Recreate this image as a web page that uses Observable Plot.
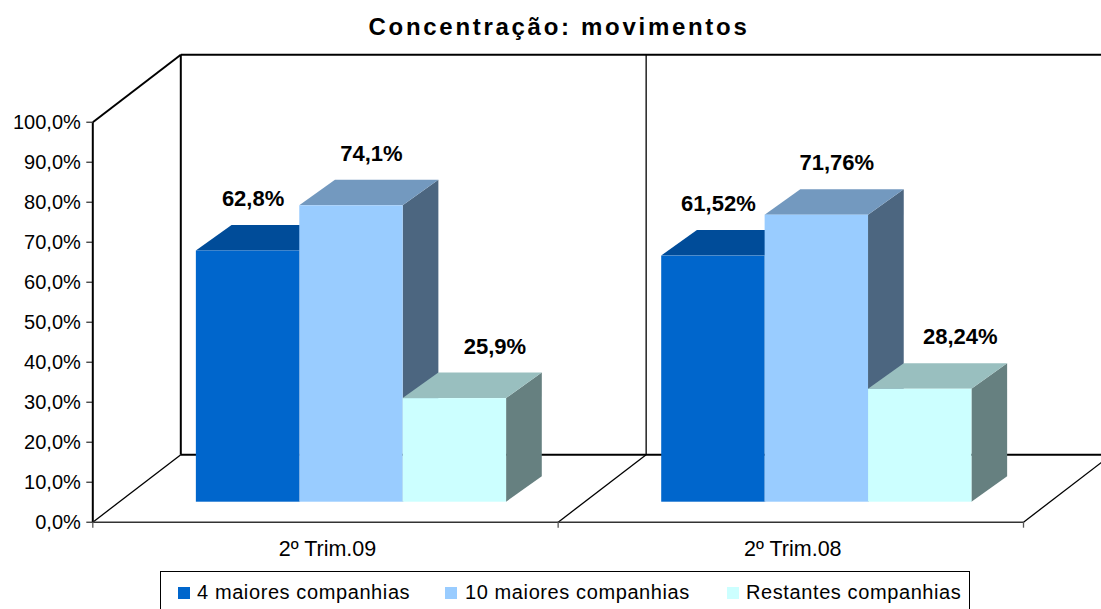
<!DOCTYPE html>
<html><head><meta charset="utf-8">
<script src="https://cdn.jsdelivr.net/npm/d3@7"></script>
<script src="https://cdn.jsdelivr.net/npm/@observablehq/plot@0.6"></script>
<style>
html,body{margin:0;padding:0;background:#fff;overflow:hidden;}
#wrap{position:relative;width:1101px;height:609px;font-family:Arial,"Liberation Sans",sans-serif;color:#000;}
#title{position:absolute;left:0;top:15px;width:1118px;text-align:center;font-weight:bold;font-size:24px;line-height:24px;letter-spacing:2.7px;}
#chart{position:absolute;left:0;top:50px;}
#legend{position:absolute;left:160px;top:571px;width:810px;height:44px;border:1px solid #000;box-sizing:border-box;}
.sw{position:absolute;width:12px;height:12px;top:15px;}
.lt{position:absolute;top:10px;font-size:20px;line-height:20px;letter-spacing:0.6px;white-space:nowrap;}
</style>
</head><body>
<div id="wrap">
  <div id="title">Concentração: movimentos</div>
  <div id="chart"></div>
  <div id="legend"></div>
</div>
<script>
// ---- data ----
const categories = ["2º Trim.09", "2º Trim.08"];
const series = ["4 maiores companhias", "10 maiores companhias", "Restantes companhias"];
const trim09 = [62.8, 74.1, 25.9];
const trim08 = [61.52, 71.76, 28.24];
const yTicks = [0, 10, 20, 30, 40, 50, 60, 70, 80, 90, 100];

// ---- styles ----
const frontColors = ["#0066CC", "#99CCFF", "#CCFFFF"];
const topColors = ["#004C99", "#7399BF", "#99BFBF"];
const sideColors = ["#003366", "#4C6680", "#668080"];

// ---- layout ----
const W = 1101, H = 510;
const mL = 92.3, mR = 78, mT = 71.7, mB = 38.3;
const ux = 2 / (W - mL - mR);     // x data units per pixel
const uy = 100 / (H - mT - mB);   // y data units per pixel
const wallDX = 88 * ux, wallDY = 67.5 * uy;
const barOffX = 26 * ux, barOffY = 20 * uy;
const depthX = 35.7 * ux, depthY = 25.5 * uy;
const barW = 1 / 4.5, gap = 0.75 * barW;
const labelShift = [5, 20, 40];

const values = [trim09, trim08];
const bars = [];
values.forEach((vals, c) => vals.forEach((v, i) => {
  const x0 = c + gap + i * barW + barOffX;
  bars.push({c, i, v, id: c + "-" + i, x0, x1: x0 + barW, y0: barOffY, y1: v + barOffY});
}));

const sides = bars.flatMap(b => [
  {id: b.id, x: b.x1, y1: b.y0, y2: b.y1, fill: sideColors[b.i]},
  {id: b.id, x: b.x1 + depthX, y1: b.y0 + depthY, y2: b.y1 + depthY, fill: sideColors[b.i]}
]);
const tops = bars.flatMap(b => [
  {id: b.id, x: b.x0, y1: b.y1, y2: b.y1, fill: topColors[b.i]},
  {id: b.id, x: b.x0 + depthX, y1: b.y1, y2: b.y1 + depthY, fill: topColors[b.i]},
  {id: b.id, x: b.x1, y1: b.y1, y2: b.y1 + depthY, fill: topColors[b.i]},
  {id: b.id, x: b.x1 + depthX, y1: b.y1 + depthY, y2: b.y1 + depthY, fill: topColors[b.i]}
]);

const n = categories.length;
const heavy = [
  {x1: 0, y1: 0, x2: 0, y2: 100},
  {x1: 0, y1: 100, x2: wallDX, y2: 100 + wallDY},
  {x1: wallDX, y1: wallDY, x2: wallDX, y2: 100 + wallDY},
  {x1: wallDX, y1: 100 + wallDY, x2: n + wallDX, y2: 100 + wallDY},
  {x1: wallDX, y1: wallDY, x2: n + wallDX, y2: wallDY},
  {x1: n + wallDX, y1: wallDY, x2: n + wallDX, y2: 100 + wallDY}
];
const thin = [];
for (let c = 1; c < n; c++) thin.push({x1: c + wallDX, y1: wallDY, x2: c + wallDX, y2: 100 + wallDY});
const floorDiag = d3.range(n + 1).map(c => ({x1: c, y1: 0, x2: c + wallDX, y2: wallDY}));
const catTicks = d3.range(n + 1);

const fmtPct = v => String(v).replace(".", ",") + "%";

const plot = Plot.plot({
  width: W, height: H,
  marginLeft: mL, marginRight: mR, marginTop: mT, marginBottom: mB,
  x: {domain: [0, n], axis: null},
  y: {domain: [0, 100]},
  color: {type: "identity"},
  style: {fontFamily: "Arial, 'Liberation Sans', sans-serif", fontSize: "20px", color: "#000", background: "transparent", overflow: "visible"},
  marks: [
    Plot.link(floorDiag, {x1: "x1", y1: "y1", x2: "x2", y2: "y2", stroke: "#000", strokeWidth: 1.3}),
    Plot.link(thin, {x1: "x1", y1: "y1", x2: "x2", y2: "y2", stroke: "#000", strokeWidth: 1.3}),
    Plot.link(heavy, {x1: "x1", y1: "y1", x2: "x2", y2: "y2", stroke: "#000", strokeWidth: 2}),
    Plot.link([{x1: 0, y1: 0, x2: n, y2: 0}], {x1: "x1", y1: "y1", x2: "x2", y2: "y2", stroke: "#333", strokeWidth: 1.6}),
    Plot.ruleX(catTicks, {x: d => d, y1: 0, y2: -6 * uy, stroke: "#555", strokeWidth: 1.3}),
    Plot.axisY({ticks: yTicks, tickFormat: d => d.toFixed(1).replace(".", ",") + "%", tickSize: 6, tickPadding: 6, label: null, fontSize: 20, stroke: "#000"}),
    Plot.areaY(sides, {x: "x", y1: "y1", y2: "y2", z: "id", fill: "fill", curve: "linear"}),
    Plot.areaY(tops, {x: "x", y1: "y1", y2: "y2", z: "id", fill: "fill", curve: "linear"}),
    Plot.rect(bars, {x1: "x0", x2: "x1", y1: "y0", y2: "y1", fill: d => frontColors[d.i]}),
    Plot.text(bars, {x: d => (d.x0 + d.x1) / 2 + labelShift[d.i] * ux, y: "v", dy: -72, text: d => fmtPct(d.v), fontWeight: "bold", fontSize: 22, fill: "#000"}),
    Plot.text(categories, {x: (d, i) => i + 0.5, y: 0, dx: 2, dy: 26.5, text: d => d, fontSize: 21.5, fill: "#000"})
  ]
});
document.getElementById("chart").appendChild(plot);

// legend
const legend = document.getElementById("legend");
const swX = [17, 284, 566];
const txX = [36, 304, 585];
series.forEach((s, i) => {
  const sw = document.createElement("div");
  sw.className = "sw"; sw.style.left = swX[i] + "px"; sw.style.background = frontColors[i];
  legend.appendChild(sw);
  const t = document.createElement("div");
  t.className = "lt"; t.style.left = txX[i] + "px"; t.textContent = s;
  legend.appendChild(t);
});
</script>
</body></html>
